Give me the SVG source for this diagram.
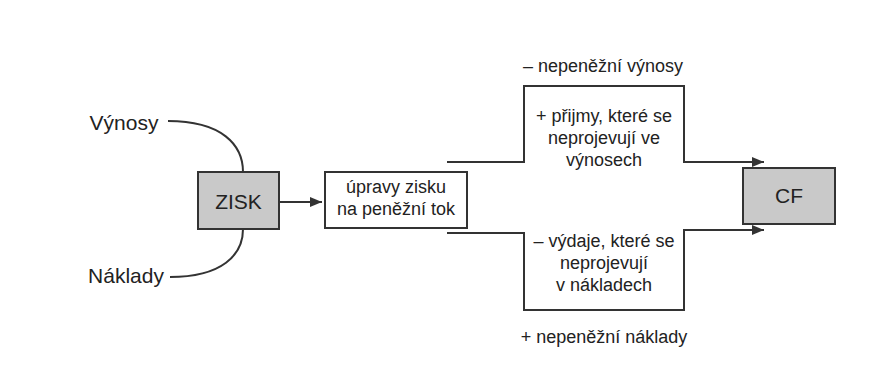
<svg xmlns="http://www.w3.org/2000/svg" width="878" height="378" viewBox="0 0 878 378">
<style>
.t{font-family:"Liberation Sans",Arial,sans-serif;fill:#222;text-anchor:middle}
.s{font-size:18px}
.b{font-size:21px}
.ln{fill:none;stroke:#333;stroke-width:2}
.box{stroke:#333;stroke-width:2}
</style>
<defs>
<marker id="ah" viewBox="0 0 12 10" refX="12" refY="5" markerWidth="12" markerHeight="10" markerUnits="userSpaceOnUse" orient="auto">
<path d="M0,0 L12,5 L0,10 Z" fill="#333"/>
</marker>
</defs>
<rect width="878" height="378" fill="#fff"/>
<g id="connectors">
<path class="ln" d="M168,121 C222,121 243,145 243,172"/>
<path class="ln" d="M170,277 C222,277 243,255 243,229"/>
<path class="ln" d="M279,202 L322,202" marker-end="url(#ah)"/>
<path class="ln" d="M447,162 L524,162 L524,86 L684,86 L684,162 L764,162" marker-end="url(#ah)"/>
<path class="ln" d="M447,233 L524,233 L524,310 L684,310 L684,230 L764,230" marker-end="url(#ah)"/>
</g>
<g id="vynosy"><text class="t b" x="124" y="130">Výnosy</text></g>
<g id="naklady"><text class="t b" x="126" y="283">Náklady</text></g>
<g id="zisk">
<rect class="box" x="198" y="172" width="81" height="57" fill="#c9c9c9"/>
<text class="t b" x="238.5" y="209">ZISK</text>
</g>
<g id="upravy">
<rect class="box" x="325" y="172" width="142" height="56" fill="#fff"/>
<text class="t s" x="396" y="193">úpravy zisku</text>
<text class="t s" x="396" y="215">na peněžní tok</text>
</g>
<g id="cf">
<rect class="box" x="743" y="168" width="92" height="56" fill="#c9c9c9"/>
<text class="t b" x="789" y="203">CF</text>
</g>
<g id="vynosy-upravy">
<text class="t s" x="603" y="72">– nepeněžní výnosy</text>
<text class="t s" x="604" y="122">+ přijmy, které se</text>
<text class="t s" x="604" y="144">neprojevují ve</text>
<text class="t s" x="604" y="166">výnosech</text>
</g>
<g id="naklady-upravy">
<text class="t s" x="604" y="247">– výdaje, které se</text>
<text class="t s" x="604" y="269">neprojevují</text>
<text class="t s" x="604" y="291">v nákladech</text>
<text class="t s" x="604" y="343">+ nepeněžní náklady</text>
</g>
</svg>
